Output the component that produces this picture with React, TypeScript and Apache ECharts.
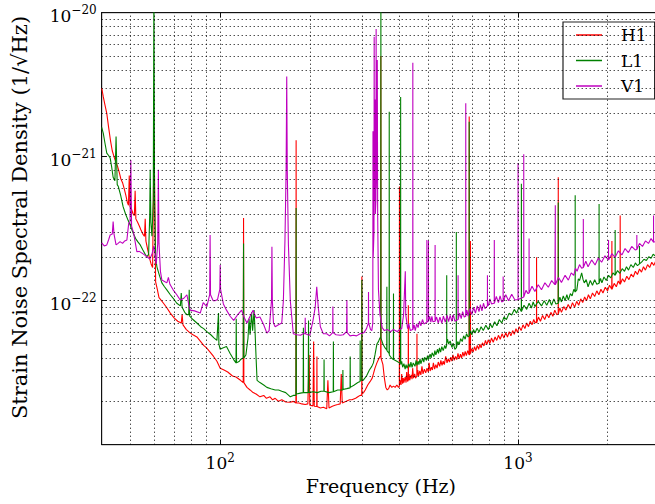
import React, { useEffect, useRef } from "react";
import * as echarts from "echarts";

// ---------- data (frequency in Hz, strain ASD in 1/sqrt(Hz)) ----------
const seriesNames = ["H1", "L1", "V1"];
const seriesColors = ["#ff0000", "#008000", "#bf00bf"];

const h1: [number, number][] = [
  [40, 3.0e-21], [40.5, 2.6e-21], [41, 2.3e-21], [41.6, 2.0e-21], [42.2, 1.6e-21], [42.8, 1.3e-21],
  [43.4, 1.1e-21], [44, 1.0e-21], [44.6, 9.2e-22], [45.2, 8.6e-22], [45.8, 7.8e-22], [46.4, 7.0e-22],
  [47, 6.6e-22], [47.6, 6.0e-22], [48.2, 5.4e-22], [48.8, 4.8e-22], [49.2, 4.6e-22], [49.5, 7.4e-22],
  [49.8, 4.5e-22], [50.4, 4.3e-22], [51, 4.0e-22], [51.5, 3.9e-22], [51.8, 5.8e-22], [52.1, 3.7e-22],
  [52.8, 3.5e-22], [53.5, 3.3e-22], [54.2, 3.1e-22], [55, 2.9e-22], [55.7, 2.8e-22], [56, 3.7e-22],
  [56.3, 2.6e-22], [57, 2.3e-22], [57.8, 2.0e-22], [58.6, 1.8e-22], [59.3, 1.7e-22], [59.7, 6e-22],
  [60, 1.3e-21], [60.3, 5e-22], [60.7, 1.35e-22], [61.5, 1.2e-22], [62.3, 1.05e-22], [63.5, 1.0e-22],
  [64.5, 9.6e-23], [66, 9.0e-23], [68, 8.2e-23], [70, 7.6e-23], [72, 7.2e-23], [74, 7.0e-23],
  [74.5, 8.0e-23], [75, 6.8e-23], [77, 6.3e-23], [79, 6.0e-23], [81, 5.8e-23], [83.5, 5.6e-23],
  [86, 5.2e-23], [88, 4.9e-23], [90, 4.7e-23], [92.5, 4.4e-23], [95, 4.1e-23], [97.5, 3.8e-23],
  [100, 3.4e-23], [103, 3.3e-23], [106, 3.2e-23], [110, 3.0e-23], [113, 2.95e-23], [117, 2.8e-23],
  [119.5, 2.7e-23], [119.8, 3.75e-22], [120.1, 2.7e-23], [123, 2.5e-23], [126, 2.4e-23], [129, 2.3e-23],
  [132, 2.25e-23], [136, 2.15e-23], [140, 2.2e-23], [143, 2.1e-23], [147, 2.15e-23], [150, 2.05e-23],
  [153, 2.1e-23], [157, 2.0e-23], [161, 2.05e-23], [166, 1.98e-23], [172, 1.97e-23], [176, 2.0e-23],
  [179.6, 1.95e-23], [179.9, 1.3e-21], [180.2, 1.95e-23], [184, 1.95e-23], [188, 1.92e-23], [193, 1.9e-23],
  [197, 1.92e-23], [199, 4.2e-23], [200, 1.88e-23], [205, 1.86e-23], [206, 5.2e-23], [207, 1.85e-23],
  [211, 1.84e-23], [211.3, 4.1e-23], [211.6, 1.84e-23], [217, 1.8e-23], [222, 1.82e-23], [228, 1.78e-23],
  [230, 2.8e-23], [232, 1.8e-23], [238, 1.85e-23], [243, 1.88e-23], [248, 1.9e-23], [253, 1.92e-23],
  [255, 3.1e-23], [257, 1.95e-23], [265, 2.0e-23], [272, 2.05e-23], [277, 2.05e-23], [285, 2.1e-23],
  [290, 2.15e-23], [295, 2.2e-23], [298.8, 2.2e-23], [299.1, 1.47e-22], [299.4, 2.25e-23], [303, 2.3e-23],
  [307, 2.4e-23], [313, 2.6e-23], [319, 2.75e-23], [324, 2.9e-23], [327, 3.1e-23], [331, 3.4e-23],
  [336, 3.7e-23], [340, 3.9e-23], [344, 4.1e-23], [346, 4.1e-23], [346.4, 5e-21], [346.8, 4.0e-23],
  [352, 3.6e-23], [356, 2.9e-23], [360, 2.5e-23], [364, 2.4e-23], [368, 2.45e-23], [372, 2.6e-23],
  [377, 2.5e-23], [382, 2.55e-23], [387, 2.5e-23], [392, 2.6e-23], [397, 2.5e-23], [399.7, 2.55e-23],
  [400, 6.2e-22], [400.3, 2.6e-23], [403, 2.8e-23], [405, 2.6e-23], [407, 3.1e-23], [410, 2.65e-23],
  [412, 2.9e-23], [414, 2.7e-23], [418, 2.95e-23], [421, 2.7e-23], [423, 3.2e-23], [426, 2.75e-23],
  [428, 2.8e-23], [428.5, 9.3e-23], [429, 2.8e-23], [431, 3.1e-23], [433, 2.8e-23], [438, 3.05e-23],
  [441, 2.85e-23], [443, 3.4e-23], [446, 2.9e-23], [450, 3.1e-23], [453, 2.9e-23], [457.5, 3.0e-23],
  [458, 5.9e-23], [458.5, 3.0e-23], [461, 3.3e-23], [464, 3.0e-23], [468, 3.25e-23], [472, 3.05e-23],
  [476, 3.5e-23], [480, 3.1e-23], [485, 3.35e-23], [490, 3.15e-23], [495, 3.4e-23], [500, 3.2e-23],
  [503, 3.7e-23], [507, 3.25e-23], [512, 3.45e-23], [516, 3.3e-23], [520, 3.7e-23], [525, 3.35e-23],
  [530, 3.6e-23], [535, 3.4e-23], [540, 3.75e-23], [546, 3.5e-23], [551, 3.85e-23], [556, 3.55e-23],
  [561, 3.8e-23], [566, 3.6e-23], [572, 4.1e-23], [578, 3.7e-23], [583, 3.95e-23], [589, 3.75e-23],
  [595, 4.05e-23], [600, 3.8e-23], [605, 4.2e-23], [611, 3.85e-23], [617, 4.1e-23], [623, 3.9e-23],
  [629, 4.3e-23], [635, 3.95e-23], [641, 4.25e-23], [647, 4.0e-23], [653, 4.4e-23], [659, 4.1e-23],
  [665, 4.45e-23], [671, 4.15e-23], [678, 4.5e-23], [685.5, 4.2e-23], [686, 1.9e-21], [686.5, 4.2e-23],
  [692, 4.3e-23], [692.5, 2.6e-22], [693, 4.3e-23], [700, 4.65e-23], [707, 4.4e-23], [715, 4.8e-23],
  [722, 4.5e-23], [730, 4.9e-23], [738, 4.6e-23], [745, 5.0e-23], [752, 4.7e-23], [760, 5.1e-23],
  [769, 4.85e-23], [778, 5.3e-23], [786, 4.95e-23], [795, 5.35e-23], [805, 5.05e-23], [815, 5.5e-23],
  [826, 5.15e-23], [838, 5.6e-23], [849, 5.3e-23], [860, 5.75e-23], [872, 5.4e-23], [885, 5.9e-23],
  [897, 5.5e-23], [910, 6.0e-23], [922, 5.6e-23], [935, 6.1e-23], [947, 5.7e-23], [960, 6.2e-23],
  [972, 5.85e-23], [985, 6.4e-23], [997, 6.0e-23], [1010, 6.6e-23], [1025, 6.2e-23], [1040, 6.8e-23],
  [1055, 6.4e-23], [1070, 7.0e-23], [1085, 6.6e-23], [1100, 7.2e-23], [1115, 6.8e-23], [1130, 7.4e-23],
  [1142, 7.0e-23], [1154.5, 7.2e-23], [1155, 2.0e-22], [1155.5, 7.0e-23], [1172, 7.7e-23], [1190, 7.2e-23],
  [1210, 7.9e-23], [1230, 7.4e-23], [1250, 8.1e-23], [1270, 7.6e-23], [1290, 8.3e-23], [1310, 7.8e-23],
  [1330, 8.6e-23], [1350, 8.0e-23], [1365.5, 8.1e-23], [1366, 7.2e-22], [1366.5, 8.1e-23], [1383, 8.9e-23],
  [1400, 8.3e-23], [1425, 9.1e-23], [1450, 8.6e-23], [1475, 9.4e-23], [1500, 8.8e-23], [1525, 9.7e-23],
  [1550, 9.0e-23], [1575, 9.9e-23], [1600, 9.3e-23], [1625, 1.03e-22], [1650, 9.7e-23], [1675, 1.06e-22],
  [1700, 1.0e-22], [1725, 1.1e-22], [1750, 1.03e-22], [1780, 1.13e-22], [1810, 1.07e-22], [1840, 1.17e-22],
  [1870, 1.1e-22], [1900, 1.2e-22], [1930, 1.13e-22], [1965, 1.24e-22], [2000, 1.17e-22], [2030, 1.28e-22],
  [2066, 1.2e-22], [2068, 2.6e-22], [2070, 1.2e-22], [2105, 1.32e-22], [2140, 1.25e-22], [2172, 1.37e-22],
  [2203, 1.3e-22], [2205, 3.9e-22], [2207, 1.3e-22], [2245, 1.42e-22], [2280, 1.35e-22], [2320, 1.48e-22],
  [2360, 1.4e-22], [2400, 1.53e-22], [2440, 1.46e-22], [2480, 1.6e-22], [2520, 1.52e-22], [2560, 1.66e-22],
  [2600, 1.58e-22], [2640, 1.72e-22], [2680, 1.63e-22], [2725, 1.78e-22], [2770, 1.7e-22], [2815, 1.85e-22],
  [2860, 1.76e-22], [2905, 1.9e-22], [2950, 1.8e-22], [3000, 1.86e-22],
];

const l1: [number, number][] = [
  [40, 1.6e-21], [40.5, 1.45e-21], [41, 1.25e-21], [41.6, 1.06e-21], [42.2, 1.02e-21], [42.7, 9.8e-22],
  [43.2, 8.5e-22], [43.7, 7.2e-22], [44.3, 6.8e-22], [44.7, 1.38e-21], [45.1, 6.4e-22], [45.5, 6.2e-22],
  [46.3, 5.4e-22], [47.2, 4.5e-22], [48.1, 4.0e-22], [49.1, 3.6e-22], [50, 3.3e-22], [51, 2.95e-22],
  [52, 2.7e-22], [53, 2.55e-22], [53.9, 2.44e-22], [55, 2.25e-22], [56, 2.1e-22], [56.7, 2.02e-22],
  [57.5, 2.1e-22], [58, 4e-22], [58.2, 8.1e-22], [58.5, 3.5e-22], [59, 2.8e-22], [59.6, 5e-22],
  [59.9, 1.5e-20], [60.2, 5e-22], [60.7, 2.0e-22], [61.3, 1.72e-22], [62.5, 1.5e-22], [63.7, 1.33e-22],
  [65, 1.25e-22], [66.2, 1.19e-22], [68, 1.1e-22], [70, 1.02e-22], [71.5, 9.6e-23], [73.5, 9.2e-23],
  [74, 1.13e-22], [74.5, 9.0e-23], [76, 8.3e-23], [77.3, 8.0e-23], [78.4, 8.0e-23], [78.7, 1.19e-22],
  [79, 7.8e-23], [81, 7.4e-23], [83.5, 7.0e-23], [86, 6.6e-23], [88, 6.4e-23], [90.2, 6.1e-23],
  [93, 5.8e-23], [95.5, 5.5e-23], [97.5, 5.3e-23], [98.7, 8.2e-23], [99, 5.0e-23], [100, 4.6e-23],
  [102, 4.7e-23], [105, 4.8e-23], [108, 4.3e-23], [111, 3.9e-23], [113, 3.7e-23], [113.2, 7.5e-23],
  [113.5, 3.7e-23], [116, 3.8e-23], [117, 3.9e-23], [119.5, 4.0e-23], [119.8, 2.5e-22], [120.1, 4.0e-23],
  [122, 4.2e-23], [124, 5.5e-23], [125, 7.5e-23], [126, 5.8e-23], [127.5, 8.3e-23], [128.5, 6.2e-23],
  [130, 8.6e-23], [131, 6.0e-23], [132, 4.0e-23], [133, 2.8e-23], [136, 2.7e-23], [140, 2.6e-23],
  [143.5, 2.5e-23], [148, 2.45e-23], [153, 2.4e-23], [157, 2.4e-23], [161, 2.35e-23], [166, 2.3e-23],
  [172, 2.15e-23], [176, 2.2e-23], [179.6, 2.2e-23], [179.9, 4.4e-22], [180.2, 2.25e-23], [186, 2.28e-23],
  [190, 2.3e-23], [190.3, 6.5e-23], [190.6, 2.3e-23], [197.5, 2.3e-23], [198, 7.3e-23], [198.5, 2.3e-23],
  [205, 2.33e-23], [212, 2.3e-23], [218, 2.35e-23], [223, 2.35e-23], [223.3, 3.9e-23], [223.6, 2.35e-23],
  [232, 2.3e-23], [239.7, 2.33e-23], [240, 5.2e-23], [240.3, 2.33e-23], [248, 2.4e-23], [258, 2.4e-23],
  [258.3, 3.3e-23], [258.6, 2.42e-23], [266, 2.45e-23], [273, 2.48e-23], [273.3, 4.1e-23], [273.6, 2.5e-23],
  [282, 2.6e-23], [290, 2.7e-23], [295, 2.75e-23], [295.2, 5.3e-23], [295.5, 2.8e-23], [298.8, 2.8e-23],
  [299.1, 1.39e-22], [299.4, 2.8e-23], [302, 2.8e-23], [310, 3.0e-23], [317, 3.3e-23], [323, 3.5e-23],
  [327, 3.7e-23], [331, 4.2e-23], [336, 5.0e-23], [340, 5.2e-23], [344, 5.5e-23], [346.2, 5.6e-23],
  [346.5, 1.5e-20], [346.8, 5.5e-23], [352, 5.0e-23], [358, 4.7e-23], [362.6, 4.55e-23], [362.9, 1.25e-22],
  [363.2, 4.5e-23], [369.3, 4.3e-23], [369.6, 2.05e-21], [369.9, 4.2e-23], [376, 4.0e-23], [381.7, 3.9e-23],
  [382, 1.12e-22], [382.3, 3.9e-23], [392, 3.8e-23], [400, 3.7e-23], [403.4, 3.7e-23], [403.7, 2.6e-21],
  [404, 3.6e-23], [407, 3.8e-23], [410, 3.45e-23], [414, 3.65e-23], [418, 3.35e-23], [421, 3.6e-23],
  [424, 3.4e-23], [430, 3.65e-23], [434, 3.45e-23], [437, 3.75e-23], [441, 3.45e-23], [445, 3.7e-23],
  [451, 3.5e-23], [455, 3.85e-23], [458, 3.55e-23], [462, 3.8e-23], [465, 3.6e-23], [469, 3.95e-23],
  [472, 3.65e-23], [479, 4.0e-23], [483, 3.75e-23], [486, 4.05e-23], [493, 3.85e-23], [497, 4.15e-23],
  [500, 3.9e-23], [507, 4.25e-23], [511, 4.0e-23], [515, 4.35e-23], [522, 4.1e-23], [526, 4.5e-23],
  [530, 4.2e-23], [537, 4.6e-23], [541, 4.3e-23], [545, 4.7e-23], [550, 4.4e-23], [555, 4.8e-23],
  [561, 4.5e-23], [568, 4.9e-23], [572, 4.65e-23], [576.3, 4.9e-23], [576.5, 1.5e-22], [576.8, 5.1e-23],
  [580, 5.4e-23], [585, 5.0e-23], [592, 5.25e-23], [600, 4.75e-23], [607, 5.05e-23], [614, 4.6e-23],
  [620.7, 4.7e-23], [621, 3.0e-22], [621.3, 4.7e-23], [628, 5.2e-23], [635, 4.95e-23], [642, 5.45e-23],
  [650, 5.2e-23], [657, 5.7e-23], [665, 5.4e-23], [672, 5.9e-23], [680, 5.6e-23], [685.7, 5.7e-23],
  [686, 1.75e-21], [686.3, 5.7e-23], [693, 6.2e-23], [700, 5.8e-23], [709, 6.3e-23], [718, 5.97e-23],
  [729, 6.45e-23], [740, 6.05e-23], [752, 6.6e-23], [765, 6.2e-23], [780, 6.75e-23], [796, 6.3e-23],
  [808, 6.9e-23], [820, 6.5e-23], [835, 7.15e-23], [850, 6.7e-23], [866, 7.4e-23], [882, 7.0e-23],
  [898, 7.7e-23], [915, 7.4e-23], [934, 8.2e-23], [953, 7.96e-23], [972, 8.7e-23], [990, 8.2e-23],
  [1008, 9.0e-23], [1026.5, 8.4e-23], [1027, 6.5e-22], [1027.5, 8.4e-23], [1048, 9.3e-23], [1070, 8.7e-23],
  [1090, 9.6e-23], [1110, 8.9e-23], [1125, 9.8e-23], [1140, 9.1e-23], [1170, 9.9e-23], [1200, 9.2e-23],
  [1225, 1.0e-22], [1250, 9.3e-23], [1275, 1.02e-22], [1297, 9.3e-23], [1320, 1.03e-22], [1340, 9.5e-23],
  [1365.5, 9.6e-23], [1366, 4.8e-22], [1366.5, 9.6e-23], [1383, 1.06e-22], [1400, 9.8e-23], [1420, 1.08e-22],
  [1440, 1.0e-22], [1460, 1.1e-22], [1477, 1.01e-22], [1500, 1.12e-22], [1520, 1.08e-22], [1540, 1.2e-22],
  [1556.5, 1.15e-22], [1557, 5.4e-22], [1557.5, 1.15e-22], [1577, 1.19e-22], [1595, 1.42e-22], [1610, 1.38e-22],
  [1637, 1.56e-22], [1655, 1.4e-22], [1670, 1.33e-22], [1695, 1.4e-22], [1720, 1.25e-22], [1750, 1.38e-22],
  [1780, 1.28e-22], [1810, 1.4e-22], [1840, 1.3e-22], [1872.5, 1.32e-22], [1873, 4.7e-22], [1873.5, 1.32e-22],
  [1894, 1.43e-22], [1914, 1.33e-22], [1945, 1.46e-22], [1980, 1.38e-22], [2015, 1.5e-22], [2050, 1.44e-22],
  [2085, 1.56e-22], [2120.5, 1.5e-22], [2121, 3.1e-22], [2121.5, 1.5e-22], [2160, 1.62e-22], [2200, 1.55e-22],
  [2240, 1.67e-22], [2280, 1.6e-22], [2315, 1.72e-22], [2352, 1.63e-22], [2395, 1.78e-22], [2440, 1.7e-22],
  [2480, 1.83e-22], [2520, 1.75e-22], [2559.5, 1.8e-22], [2560, 2.4e-22], [2560.5, 1.8e-22], [2606, 1.86e-22],
  [2650, 1.94e-22], [2700, 1.9e-22], [2750, 2.02e-22], [2800, 1.97e-22], [2845, 2.1e-22], [2890, 2.05e-22],
  [2945, 2.18e-22], [3000, 2.14e-22],
];

const v1: [number, number][] = [
  [40, 2.52e-22], [40.8, 2.4e-22], [41.6, 2.44e-22], [42.2, 2.65e-22], [42.7, 2.86e-22], [43.4, 2.9e-22],
  [43.7, 3.54e-22], [44, 2.9e-22], [44.7, 2.44e-22], [45.4, 2.5e-22], [46.1, 2.57e-22], [47, 2.5e-22],
  [47.8, 2.6e-22], [48.6, 2.64e-22], [49.3, 3.46e-22], [49.8, 3.5e-22], [50.1, 9.5e-22], [50.4, 3.3e-22],
  [51.2, 2.95e-22], [52.5, 2.19e-22], [53.5, 2.2e-22], [54.6, 2.14e-22], [55.7, 2.08e-22], [56.7, 2.02e-22],
  [58, 1.95e-22], [59, 2.1e-22], [59.9, 2.4e-22], [61, 1.8e-22], [61.7, 2.5e-22], [62, 8.1e-22],
  [62.3, 2.5e-22], [63, 1.6e-22], [63.7, 1.39e-22], [65, 1.36e-22], [66.2, 1.33e-22], [67, 1.45e-22],
  [67.8, 1.3e-22], [69.5, 1.19e-22], [71.5, 1.1e-22], [73.4, 1.01e-22], [75.5, 1.04e-22], [77.3, 1.1e-22],
  [78.5, 9.3e-23], [79.3, 8.6e-23], [82, 8.5e-23], [85.7, 8.2e-23], [87.7, 9.7e-23], [90.2, 9.1e-23],
  [92.2, 1.1e-22], [92.5, 2.86e-22], [92.8, 1.1e-22], [94.7, 1.0e-22], [96, 1.0e-22], [98, 1.02e-22],
  [99.7, 1.2e-22], [100, 1.77e-22], [100.3, 1.2e-22], [102.5, 9.5e-23], [105, 8.6e-23], [108, 7.8e-23],
  [111, 7.3e-23], [114, 7.9e-23], [118, 8.6e-23], [120.5, 7.6e-23], [123, 7.0e-23], [126, 7.8e-23],
  [129, 8.6e-23], [132, 7.6e-23], [136, 7.7e-23], [140, 6.8e-23], [143.5, 5.95e-23], [146, 6.2e-23],
  [148.7, 1e-22], [149.2, 2.37e-22], [149.7, 1e-22], [151, 7.0e-23], [153, 6.6e-23], [157, 6.8e-23],
  [161, 7.0e-23], [163, 1.0e-22], [165, 2.6e-22], [166.5, 8e-22], [167.3, 3.6e-21], [168, 8e-22],
  [169.5, 2.44e-22], [172, 1.0e-22], [176, 5.9e-23], [181, 5.8e-23], [186, 5.75e-23], [190, 5.9e-23],
  [192.8, 5.9e-23], [193, 7.6e-23], [193.3, 5.9e-23], [197, 5.8e-23], [200, 5.75e-23], [205, 7.3e-23],
  [208.5, 9e-23], [211, 1.25e-22], [213.5, 9e-23], [217, 6.6e-23], [222, 5.9e-23], [228, 5.9e-23],
  [233, 5.7e-23], [238.7, 6e-23], [239, 9.1e-23], [239.3, 6e-23], [245, 5.8e-23], [253, 5.75e-23],
  [259, 5.8e-23], [265.8, 6.1e-23], [266.4, 1.01e-22], [267, 6e-23], [273, 5.7e-23], [280, 5.75e-23],
  [287, 5.7e-23], [295, 5.9e-23], [304, 6.0e-23], [310, 6.4e-23], [314.6, 7e-23], [314.9, 1.15e-22],
  [315.2, 7e-23], [320, 6.3e-23], [323, 6.2e-23], [325.5, 7e-23], [326, 1.5e-21], [326.5, 2e-22],
  [328.5, 3e-22], [329, 6.8e-21], [329.5, 5e-22], [331, 5e-22], [331.5, 2.5e-21], [332, 4e-22],
  [333.5, 5e-22], [334, 7.7e-21], [334.5, 6e-22], [336, 1e-21], [337, 4.7e-21], [338, 4e-22],
  [340, 1.2e-22], [344, 8e-23], [350, 6.5e-23], [356, 6.2e-23], [364, 6.3e-23], [374, 6.1e-23],
  [381, 6.3e-23], [387, 6.2e-23], [393, 6.1e-23], [400, 6.3e-23], [407, 6.4e-23], [413, 8e-23],
  [418.5, 1.6e-22], [420, 8e-23], [426, 6.4e-23], [430, 6.9e-23], [435, 6.2e-23], [443.3, 6.3e-23],
  [443.6, 4.5e-21], [443.9, 6.3e-23], [448, 6.8e-23], [452, 6.2e-23], [457, 6.9e-23], [462, 6.5e-23],
  [467, 7.2e-23], [472, 6.7e-23], [478, 7.4e-23], [483, 6.9e-23], [494.2, 7.1e-23], [494.5, 2.64e-22],
  [494.8, 7.1e-23], [500.3, 7.2e-23], [500.6, 2.6e-22], [500.9, 7.2e-23], [505, 7.8e-23], [510, 7.1e-23],
  [514, 7.8e-23], [518, 7.15e-23], [526.7, 7.2e-23], [527, 2.44e-22], [527.3, 7.2e-23], [533, 7.7e-23],
  [540, 7.0e-23], [547, 7.7e-23], [555, 7.0e-23], [562, 7.8e-23], [570, 7.1e-23], [578, 7.9e-23],
  [585, 7.15e-23], [592, 7.9e-23], [600, 7.2e-23], [607, 8.0e-23], [614, 7.2e-23], [629.2, 7.4e-23],
  [629.5, 1.5e-22], [629.8, 7.4e-23], [637, 8.2e-23], [645, 7.5e-23], [652, 8.4e-23], [660, 7.7e-23],
  [667.7, 7.8e-23], [668, 2.35e-21], [668.3, 7.8e-23], [674, 8.6e-23], [680, 7.8e-23], [690, 8.8e-23],
  [700, 8.0e-23], [710, 9.0e-23], [720, 8.2e-23], [730, 9.2e-23], [740, 8.4e-23], [748, 9.4e-23],
  [757, 8.5e-23], [766, 9.6e-23], [775, 8.8e-23], [789.7, 9.2e-23], [790, 1.5e-22], [790.3, 9.2e-23],
  [796, 9.3e-23], [805, 1.03e-22], [815, 9.5e-23], [832.7, 9.6e-23], [833, 2.64e-22], [833.3, 9.6e-23],
  [846, 1.07e-22], [860, 9.7e-23], [871, 1.08e-22], [882, 9.8e-23], [891.7, 9.9e-23], [892, 1.47e-22],
  [892.3, 9.9e-23], [910, 1.1e-22], [930, 1.0e-22], [953, 1.11e-22], [977, 1.01e-22], [1000.7, 1.02e-22],
  [1001, 9.0e-22], [1001.3, 1.02e-22], [1025, 1.04e-22], [1045.7, 1.06e-22], [1046, 1.04e-21], [1046.3, 1.06e-22],
  [1064, 1.18e-22], [1081, 1.12e-22], [1089.7, 1.13e-22], [1090, 2.7e-22], [1090.3, 1.13e-22], [1115, 1.26e-22],
  [1140, 1.16e-22], [1170, 1.29e-22], [1200, 1.19e-22], [1232, 1.33e-22], [1265, 1.24e-22], [1298, 1.38e-22],
  [1331, 1.29e-22], [1334.7, 1.29e-22], [1335, 4.6e-22], [1335.3, 1.29e-22], [1368, 1.45e-22], [1400, 1.34e-22],
  [1440, 1.5e-22], [1477, 1.39e-22], [1510, 1.56e-22], [1540, 1.5e-22], [1560, 1.68e-22], [1580, 1.6e-22],
  [1610, 1.78e-22], [1637, 1.68e-22], [1657.7, 1.7e-22], [1658, 3.7e-22], [1658.3, 1.7e-22], [1690, 1.88e-22],
  [1720, 1.72e-22], [1768, 1.92e-22], [1816, 1.77e-22], [1862, 1.98e-22], [1910, 1.85e-22], [1960, 2.05e-22],
  [2014.7, 1.92e-22], [2015, 2.64e-22], [2015.3, 1.92e-22], [2068, 2.12e-22], [2120, 2.0e-22], [2175, 2.22e-22],
  [2234, 2.08e-22], [2290, 2.3e-22], [2350, 2.16e-22], [2410, 2.38e-22], [2476, 2.25e-22], [2507.5, 2.27e-22],
  [2508, 2.86e-22], [2508.5, 2.27e-22], [2560, 2.5e-22], [2620, 2.38e-22], [2680, 2.6e-22], [2744, 2.5e-22],
  [2800, 2.7e-22], [2853.5, 2.55e-22], [2854, 3.9e-22], [2854.5, 2.55e-22], [2890, 2.57e-22], [2945, 2.78e-22],
  [3000, 2.65e-22],
];

const seriesData = [h1, l1, v1];

// axis ranges and grid-line positions
const xRange = [40, 3000];
const yRange = [1e-23, 1e-20];
const xGridLines = [50, 60, 70, 80, 90, 100, 200, 300, 400, 500, 600, 700, 800, 900, 1000, 2000];
const yGridLines = [
  2e-23, 3e-23, 4e-23, 5e-23, 6e-23, 7e-23, 8e-23, 9e-23, 1e-22,
  2e-22, 3e-22, 4e-22, 5e-22, 6e-22, 7e-22, 8e-22, 9e-22, 1e-21,
  2e-21, 3e-21, 4e-21, 5e-21, 6e-21, 7e-21, 8e-21, 9e-21,
];

const xTitle = "Frequency (Hz)";
const yTitle = "Strain Noise Spectral Density (1/\u221AHz)";

const FONT = "'DejaVu Serif', serif";

function powLabel(v: number): string {
  const l = Math.log10(v);
  const e = Math.round(l);
  if (Math.abs(l - e) > 1e-6) return "";
  const s = e < 0 ? "\u2212" + Math.abs(e) : String(e);
  return `{b|10}{e|${s}}`;
}

const rich = {
  b: { fontFamily: FONT, fontSize: 17, color: "#000", lineHeight: 17, padding: [6, 0, 0, 0] },
  e: { fontFamily: FONT, fontSize: 12, color: "#000", lineHeight: 12, verticalAlign: "top" },
};

export default function App() {
  const ref = useRef<HTMLDivElement>(null);
  useEffect(() => {
    if (!ref.current) return;
    const chart = echarts.init(ref.current, undefined, { renderer: "svg" });
    const lineSeries = seriesNames.map((name, i) => ({
      name,
      type: "line",
      data: seriesData[i],
      color: seriesColors[i],
      symbol: "none",
      showSymbol: false,
      clip: true,
      z: 3,
      lineStyle: { color: seriesColors[i], width: 1.1 },
    }));
    const gridLineData = [
      ...xGridLines.map((v) => [{ coord: [v, yRange[0]] }, { coord: [v, yRange[1]] }]),
      ...yGridLines.map((v) => [{ coord: [xRange[0], v] }, { coord: [xRange[1], v] }]),
    ];
    chart.setOption({
      animation: false,
      backgroundColor: "#fff",
      grid: {
        left: 101.7,
        top: 12.7,
        right: -5,
        bottom: 59.3,
        outerBoundsMode: "none",
        containLabel: false,
        show: true,
        borderColor: "#111",
        borderWidth: 1,
        backgroundColor: "transparent",
      },
      legend: {
        data: seriesNames,
        orient: "vertical",
        left: 563,
        top: 22,
        padding: [3, 8, 3, 13],
        itemGap: 5.5,
        itemWidth: 26,
        itemHeight: 1.5,
        icon: "rect",
        backgroundColor: "#fff",
        borderColor: "#222",
        borderWidth: 1.2,
        borderRadius: 0,
        textStyle: { fontFamily: FONT, fontSize: 17, color: "#000", lineHeight: 20, padding: [0, 0, 0, 14] },
      },
      graphic: [
        {
          type: "text",
          x: 20,
          y: 217.5,
          rotation: Math.PI / 2,
          silent: true,
          style: {
            text: yTitle,
            fontFamily: FONT,
            fontSize: 21,
            fill: "#000",
            align: "center",
            verticalAlign: "middle",
          },
        },
      ],
      xAxis: [
        {
          type: "log",
          logBase: 10,
          min: xRange[0],
          max: xRange[1],
          position: "bottom",
          axisLine: { show: true, lineStyle: { color: "#111", width: 1 } },
          axisTick: { show: true, inside: true, length: 5, lineStyle: { color: "#111" } },
          splitLine: { show: false },
          axisLabel: { formatter: powLabel, rich, margin: 7 },
          name: xTitle,
          nameLocation: "middle",
          nameGap: 32,
          nameTextStyle: { fontFamily: FONT, fontSize: 19, color: "#000" },
        },
        {
          type: "log",
          logBase: 10,
          min: xRange[0],
          max: xRange[1],
          position: "top",
          axisLine: { show: true, lineStyle: { color: "#111", width: 1 } },
          axisTick: { show: true, inside: true, length: 5, lineStyle: { color: "#111" } },
          splitLine: { show: false },
          axisLabel: { show: false },
        },
      ],
      yAxis: {
        type: "log",
        logBase: 10,
        min: yRange[0],
        max: yRange[1],
        axisLine: { show: true, lineStyle: { color: "#111", width: 1 } },
        axisTick: { show: true, inside: true, length: 5, lineStyle: { color: "#111" } },
        splitLine: { show: false },
        axisLabel: { formatter: powLabel, rich, margin: 5 },
      },
      series: [
        {
          name: "grid",
          type: "line",
          data: [],
          silent: true,
          z: 1,
          markLine: {
            silent: true,
            symbol: ["none", "none"],
            label: { show: false },
            lineStyle: { type: [1, 3], color: "#000", width: 1 },
            emphasis: { disabled: true },
            data: gridLineData,
          },
        },
        ...lineSeries,
      ],
    });
    return () => chart.dispose();
  }, []);
  return (
    <div
      ref={ref}
      style={{ position: "absolute", left: 0, top: 0, width: 655, height: 504, background: "#fff" }}
    />
  );
}
